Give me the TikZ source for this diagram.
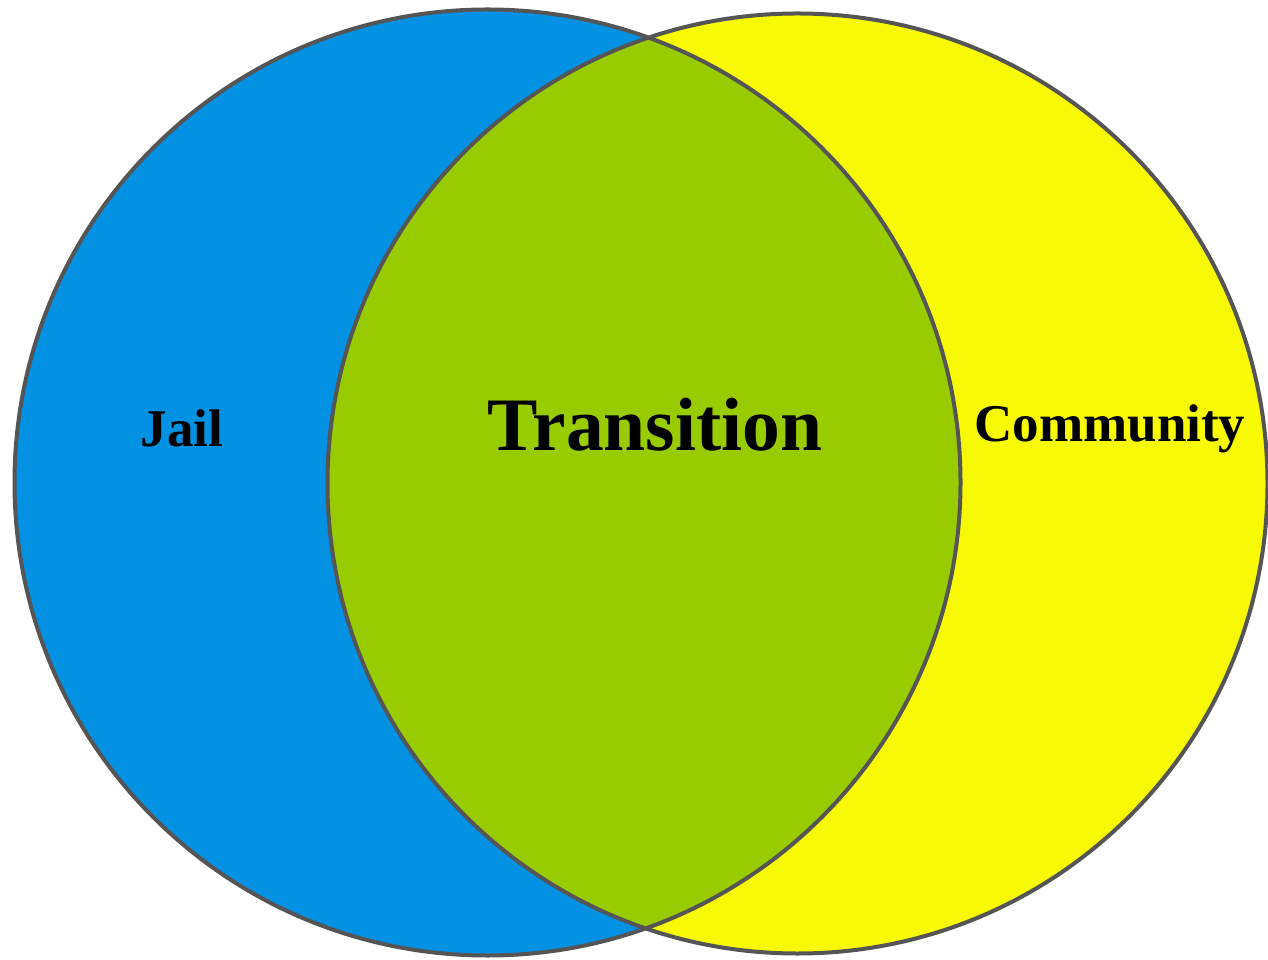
\documentclass[tikz,border=0pt]{standalone}
\usepackage{fontspec}
\setmainfont{Liberation Serif}
\definecolor{jailblue}{HTML}{0391E3}
\definecolor{transgreen}{HTML}{99CC00}
\definecolor{commyellow}{HTML}{F7FA04}
\definecolor{rimgray}{HTML}{555555}
\begin{document}
\begin{tikzpicture}[x=1pt,y=1pt,
  rim/.style={draw=rimgray,line width=4pt},
  lbl/.style={font=\bfseries,text=black,inner sep=0pt}]
\useasboundingbox (0,0) rectangle (1268,959);
\coordinate (cl) at (487.5,476.5);
\coordinate (cr) at (797.5,475.5);
\fill[jailblue] (cl) circle (473);
\fill[commyellow] (cr) circle (470);
\begin{scope}
  \clip (cl) circle (473);
  \fill[transgreen] (cr) circle (470);
\end{scope}
\draw[rim] (cl) circle (473);
\draw[rim] (cr) circle (470);
\node[lbl,font=\fontsize{53}{60}\selectfont\bfseries] (jail) at (182,531) {Jail};
\node[lbl,font=\fontsize{75.5}{80}\selectfont\bfseries] (trans) at (655,534) {Transition};
\node[lbl,font=\fontsize{53}{60}\selectfont\bfseries] (comm) at (1110,530) {Community};
\end{tikzpicture}
\end{document}
